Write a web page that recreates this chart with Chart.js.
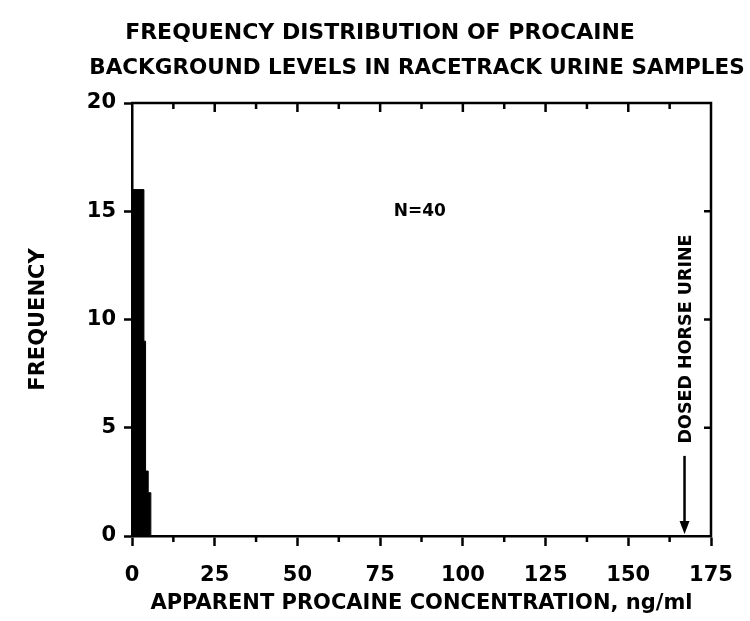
<!DOCTYPE html>
<html><head><meta charset="utf-8">
<script src="https://cdn.jsdelivr.net/npm/chart.js@4.4.1/dist/chart.umd.min.js"></script>
<style>html,body{margin:0;padding:0;background:#fff;}canvas{display:block;}</style>
</head><body>
<canvas id="c" width="750" height="621"></canvas>
<script>
const titleLines = ['FREQUENCY DISTRIBUTION OF PROCAINE', 'BACKGROUND LEVELS IN RACETRACK URINE SAMPLES'];
const xAxisTitle = 'APPARENT PROCAINE CONCENTRATION, ng/ml';
const yAxisTitle = 'FREQUENCY';
const binEdges = [0.3, 3.6, 4.1, 4.9, 5.7];
const binCounts = [16, 9, 3, 2];
const xTicks = [0, 25, 50, 75, 100, 125, 150, 175];
const yTicks = [0, 5, 10, 15, 20];
const xMinorTicks = [12.5, 37.5, 62.5, 87.5, 112.5, 137.5, 162.5];
const sampleLabel = 'N=40';
const sampleLabelAt = [87, 15];
const dosedLabel = 'DOSED HORSE URINE';
const dosedConcentration = 167;
const dosedLabelCenter = 9.1;
const dosedArrowFrom = 3.7;

const FONT = "'DejaVu Sans', sans-serif";
const points = binEdges.map((e, i) => ({ x: e, y: i < binCounts.length ? binCounts[i] : 0 }));

const titlePlugin = {
  id: 'twoLineTitle',
  afterDraw(chart) {
    const { ctx } = chart;
    ctx.save();
    ctx.fillStyle = '#000';
    ctx.textAlign = 'center';
    ctx.textBaseline = 'middle';
    ctx.font = 'bold 22px ' + FONT;
    ctx.fillText(titleLines[0], 380, 33);
    ctx.font = 'bold 21.5px ' + FONT;
    ctx.fillText(titleLines[1], 417, 68);
    ctx.restore();
  }
};

const framePlugin = {
  id: 'frame',
  afterDraw(chart) {
    const { ctx, chartArea: { left, right, top, bottom }, scales: { x, y } } = chart;
    ctx.save();
    ctx.strokeStyle = '#000';
    ctx.lineWidth = 2.5;
    ctx.beginPath();
    ctx.moveTo(left - 1, top); ctx.lineTo(right, top); ctx.lineTo(right, bottom + 1);
    xTicks.concat(xMinorTicks).forEach(v => {
      if (v <= 0 || v >= 175) return;
      const px = x.getPixelForValue(v);
      const len = xMinorTicks.includes(v) ? 6 : 9;
      ctx.moveTo(px, top); ctx.lineTo(px, top + len);
    });
    xMinorTicks.forEach(v => {
      const px = x.getPixelForValue(v);
      ctx.moveTo(px, bottom); ctx.lineTo(px, bottom + 6);
    });
    yTicks.forEach(v => {
      if (v <= 0 || v >= 20) return;
      const py = y.getPixelForValue(v);
      ctx.moveTo(right, py); ctx.lineTo(right - 7, py);
    });
    ctx.stroke();

    ctx.fillStyle = '#000';
    ctx.font = 'bold 17px ' + FONT;
    ctx.textAlign = 'center';
    ctx.textBaseline = 'middle';
    ctx.fillText(sampleLabel, x.getPixelForValue(sampleLabelAt[0]), y.getPixelForValue(sampleLabelAt[1]));

    const ax = x.getPixelForValue(dosedConcentration);
    ctx.save();
    ctx.translate(ax + 2, y.getPixelForValue(dosedLabelCenter));
    ctx.rotate(-Math.PI / 2);
    ctx.font = 'bold 17.5px ' + FONT;
    ctx.fillText(dosedLabel, 0, 0);
    ctx.restore();

    const y0 = y.getPixelForValue(dosedArrowFrom);
    const y1 = y.getPixelForValue(0) - 2;
    ctx.lineWidth = 2.5;
    ctx.beginPath();
    ctx.moveTo(ax, y0); ctx.lineTo(ax, y1 - 10);
    ctx.stroke();
    ctx.beginPath();
    ctx.moveTo(ax - 5, y1 - 13); ctx.lineTo(ax + 5, y1 - 13); ctx.lineTo(ax, y1);
    ctx.closePath(); ctx.fill();
    ctx.restore();
  }
};

new Chart(document.getElementById('c'), {
  type: 'line',
  data: {
    datasets: [{
      data: points,
      stepped: 'before',
      fill: 'origin',
      backgroundColor: '#000',
      borderColor: '#000',
      borderWidth: 1,
      pointRadius: 0
    }]
  },
  options: {
    responsive: false,
    animation: false,
    layout: { padding: { left: 0, right: 39, top: 103, bottom: 0 } },
    plugins: {
      legend: { display: false },
      tooltip: { enabled: false },
      title: { display: false }
    },
    scales: {
      x: {
        type: 'linear',
        min: 0, max: 175,
        afterBuildTicks: s => { s.ticks = xTicks.map(v => ({ value: v })); },
        afterFit: s => { s.height = 85; },
        ticks: { color: '#000', font: { family: FONT, size: 21, weight: 'bold' }, padding: 17, maxRotation: 0, autoSkip: false },
        grid: { drawOnChartArea: false, drawTicks: true, tickLength: 10, tickWidth: 2.5, tickColor: '#000' },
        border: { display: true, color: '#000', width: 2.5 },
        title: { display: true, text: xAxisTitle, color: '#000', font: { family: FONT, size: 21, weight: 'bold' }, padding: { top: 0, bottom: 5 } }
      },
      y: {
        type: 'linear',
        min: 0, max: 20,
        afterBuildTicks: s => { s.ticks = yTicks.map(v => ({ value: v })); },
        afterFit: s => { s.width = 132; },
        ticks: { color: '#000', font: { family: FONT, size: 21, weight: 'bold' }, padding: 8 },
        grid: { drawOnChartArea: false, drawTicks: true, tickLength: 8, tickWidth: 2.5, tickColor: '#000' },
        border: { display: true, color: '#000', width: 2.5 },
        title: { display: true, text: yAxisTitle, color: '#000', font: { family: FONT, size: 21, weight: 'bold' }, padding: { top: 26, bottom: 0 } }
      }
    }
  },
  plugins: [framePlugin, titlePlugin]
});
</script>
</body></html>
